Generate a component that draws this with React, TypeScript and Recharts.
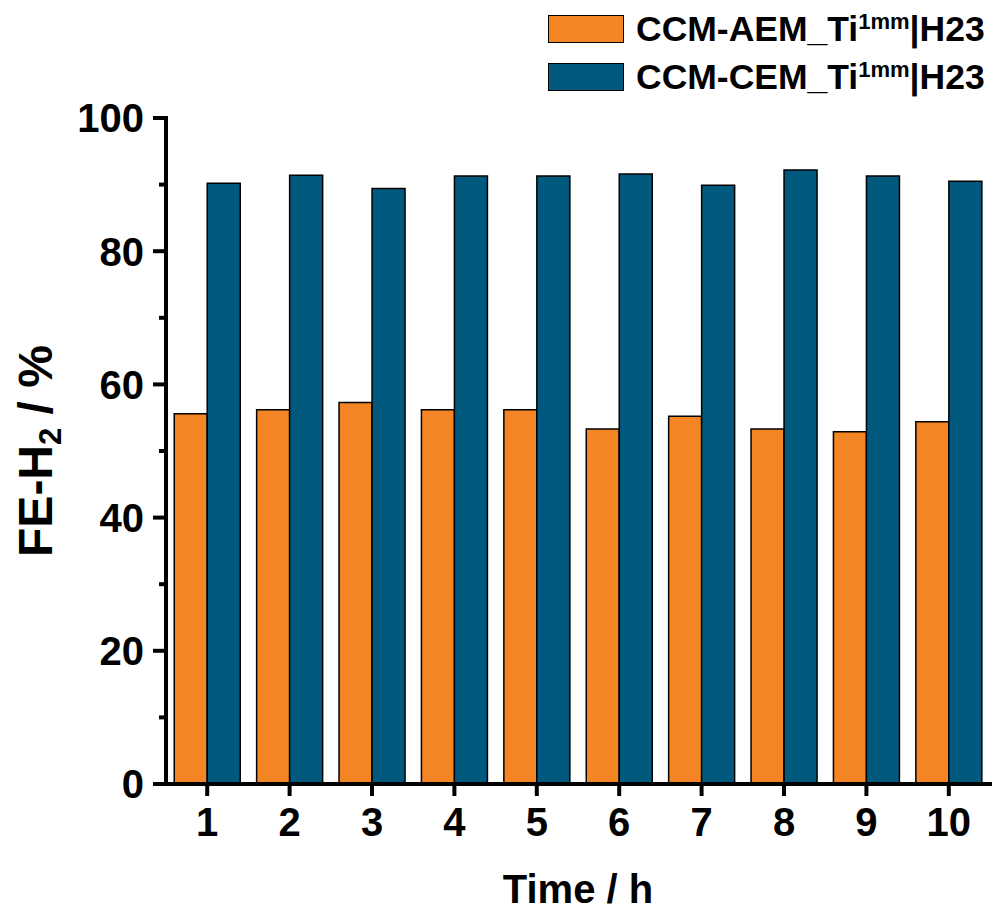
import React from "react";
import {
  BarChart,
  Bar,
  XAxis,
  YAxis,
} from "recharts";

const hours = [1, 2, 3, 4, 5, 6, 7, 8, 9, 10];
const aemValues = [55.6, 56.2, 57.3, 56.2, 56.2, 53.3, 55.2, 53.3, 52.9, 54.4];
const cemValues = [90.2, 91.4, 89.4, 91.3, 91.3, 91.6, 89.9, 92.2, 91.3, 90.5];
const yTicks = [0, 10, 20, 30, 40, 50, 60, 70, 80, 90, 100];

const legendItems = [
  { key: "aem", pre: "CCM-AEM_Ti", sup: "1mm", post: "|H23", color: "#F38524" },
  { key: "cem", pre: "CCM-CEM_Ti", sup: "1mm", post: "|H23", color: "#015A7E" },
];

const FONT = "'Liberation Sans', Arial, sans-serif";

const data = hours.map((h, i) => ({
  hour: h,
  aem: aemValues[i],
  cem: cemValues[i],
}));

// left axis ticks: long ones with labels every 20, short ones between
function YTick(props: any) {
  const { x, y, payload } = props;
  const major = payload.value % 20 === 0;
  return (
    <g>
      <line x1={x - (major ? 13 : 7)} x2={x} y1={y} y2={y} stroke="#000" strokeWidth={4} />
      {major && (
        <text
          x={x - 22}
          y={y}
          dy="0.36em"
          textAnchor="end"
          fontSize={40}
          fontWeight="bold"
          fontFamily={FONT}
          fill="#000"
        >
          {payload.value}
        </text>
      )}
    </g>
  );
}

function YLabel() {
  return (
    <text
      x={0}
      y={0}
      transform="translate(52, 451) rotate(-90)"
      textAnchor="middle"
      fontSize={48}
      fontWeight="bold"
      fontFamily={FONT}
      fill="#000"
    >
      FE-H
      <tspan fontSize={31} dy={9}>2</tspan>
      <tspan dy={-9}> / %</tspan>
    </text>
  );
}

// legend drawn as an overlay so it doesn't push the plot down
function LegendBox() {
  return (
    <div style={{ position: "absolute", left: 548, top: 5, fontFamily: FONT }}>
      {legendItems.map((item) => (
        <div
          key={item.key}
          style={{ display: "flex", alignItems: "center", height: 48 }}
        >
          <div
            style={{
              width: 74,
              height: 26,
              background: item.color,
              border: "1.5px solid #000",
              marginRight: 12,
            }}
          />
          <span style={{ fontSize: 35.5, fontWeight: "bold", color: "#000", lineHeight: "36px", whiteSpace: "nowrap" }}>
            {item.pre}
            <sup style={{ fontSize: 22, verticalAlign: "0.55em", lineHeight: 0 }}>{item.sup}</sup>
            {item.post}
          </span>
        </div>
      ))}
    </div>
  );
}

export default function App() {
  return (
    <div style={{ position: "absolute", left: 0, top: 0, width: 995, height: 910, background: "#fff" }}>
      <BarChart
        width={995}
        height={910}
        data={data}
        margin={{ top: 118, right: 5, bottom: 0, left: 0 }}
        barCategoryGap="10%"
        barGap={0}
      >
        <XAxis
          dataKey="hour"
          height={126}
          tickSize={12}
          tickMargin={12}
          tickLine={{ stroke: "#000", strokeWidth: 4 }}
          axisLine={{ stroke: "#000", strokeWidth: 4, strokeLinecap: "square" }}
          tick={{ fill: "#000", fontSize: 40, fontWeight: "bold", fontFamily: FONT }}
          label={{
            value: "Time / h",
            position: "insideBottom",
            offset: 7,
            fill: "#000",
            fontSize: 40,
            fontWeight: "bold",
            fontFamily: FONT,
          }}
        />
        <XAxis
          xAxisId="top"
          dataKey="hour"
          orientation="top"
          height={0}
          tick={false}
          tickLine={false}
          axisLine={{ stroke: "#000", strokeWidth: 4, strokeLinecap: "square" }}
        />
        <YAxis
          width={166}
          domain={[0, 100]}
          ticks={yTicks}
          interval={0}
          tickSize={0}
          tickMargin={0}
          tickLine={false}
          tick={<YTick />}
          axisLine={{ stroke: "#000", strokeWidth: 4, strokeLinecap: "square" }}
          label={<YLabel />}
        />
        <YAxis
          yAxisId="right"
          orientation="right"
          width={0}
          domain={[0, 100]}
          tick={false}
          tickLine={false}
          axisLine={{ stroke: "#000", strokeWidth: 4, strokeLinecap: "square" }}
        />
        <Bar
          dataKey="aem"
          name="CCM-AEM_Ti1mm|H23"
          fill={legendItems[0].color}
          stroke="#000"
          strokeWidth={1.5}
          isAnimationActive={false}
        />
        <Bar
          dataKey="cem"
          name="CCM-CEM_Ti1mm|H23"
          fill={legendItems[1].color}
          stroke="#000"
          strokeWidth={1.5}
          isAnimationActive={false}
        />
      </BarChart>
      <LegendBox />
    </div>
  );
}
